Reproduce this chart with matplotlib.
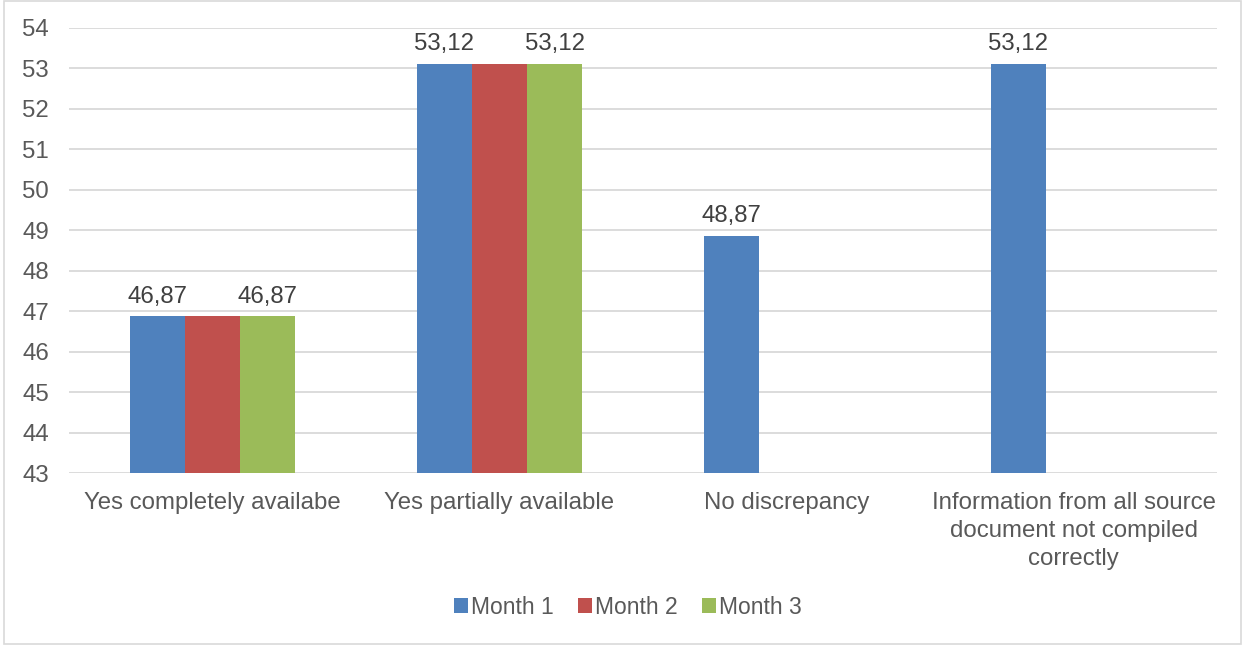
import numpy as np
import matplotlib.pyplot as plt
from matplotlib.patches import Rectangle

plt.rcParams['font.family'] = ['Liberation Sans', 'DejaVu Sans']

categories = ["Yes completely availabe", "Yes partially available", "No discrepancy",
              "Information from all source\ndocument not compiled\ncorrectly"]
series_names = ["Month 1", "Month 2", "Month 3"]
month1 = [46.87, 53.12, 48.87, 53.12]
month2 = [46.87, 53.12, 0, 0]
month3 = [46.87, 53.12, 0, 0]
colors = ["#4F81BD", "#C0504D", "#9BBB59"]

# which bars carry a data label (the original hides the middle ones)
show_labels = [[True, True, True, True],
               [False, False, False, False],
               [True, True, False, False]]

text_col = "#595959"

fig = plt.figure(figsize=(12.45, 6.45), dpi=100)
ax = fig.add_axes([69 / 1245, 1 - 473 / 645, (1217 - 69) / 1245, (473 - 28) / 645])

x = np.arange(len(categories))
width = 0.192
for i, (vals, c) in enumerate(zip([month1, month2, month3], colors)):
    bars = ax.bar(x + (i - 1) * width, vals, width, color=c, label=series_names[i], zorder=2)
    for b, v, show in zip(bars, vals, show_labels[i]):
        if show:
            ax.annotate(f"{v:.2f}".replace(".", ","), (b.get_x() + b.get_width() / 2, v),
                        xytext=(0, 6), textcoords="offset points", ha="center", va="bottom",
                        fontsize=17.3, color="#404040")

ax.set_ylim(43, 54)
ax.set_xlim(-0.5, len(categories) - 0.5)
ax.set_yticks(range(43, 55))
ax.set_xticks(x)
ax.set_xticklabels(categories, linespacing=1.35)
ax.tick_params(axis="both", length=0, labelsize=17.3, colors=text_col)
ax.tick_params(axis="y", pad=14.5)
ax.tick_params(axis="x", pad=14)
ax.grid(axis="y", color="#D9D9D9", linewidth=1.3, zorder=0)
for s in ax.spines.values():
    s.set_visible(False)

leg = fig.legend(loc="center", bbox_to_anchor=(0.5045, 1 - 607 / 645), ncol=3, frameon=False,
                 fontsize=16.5, handlelength=0.6, handleheight=0.6, handletextpad=0.15,
                 columnspacing=1.05)
for t in leg.get_texts():
    t.set_color(text_col)

fig.patches.append(Rectangle((0.003, 0.002), 0.994, 0.996, transform=fig.transFigure,
                             fill=False, edgecolor="#D9D9D9", linewidth=1.2))

fig.savefig("out.png", dpi=100)
